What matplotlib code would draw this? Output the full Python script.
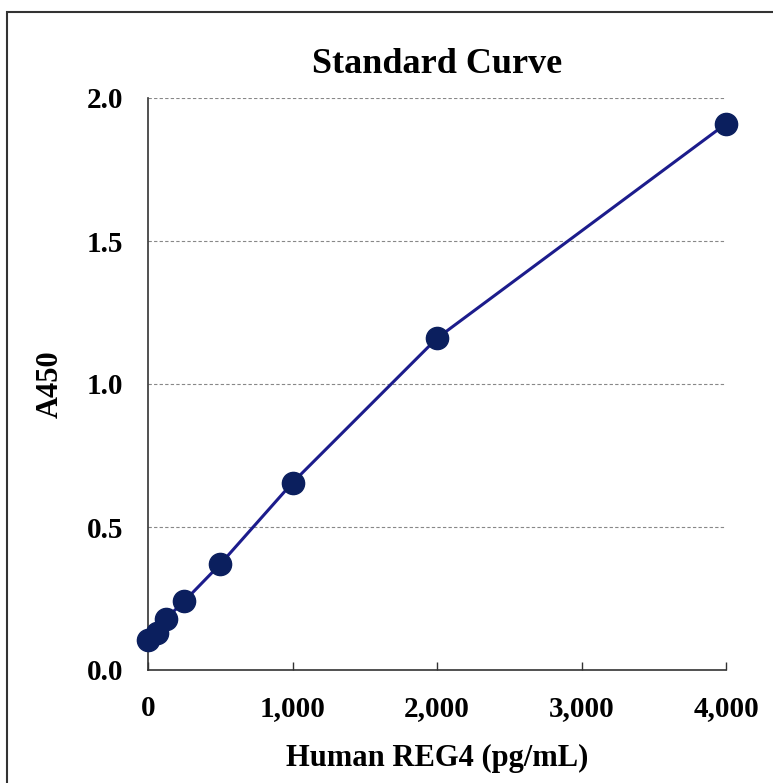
import numpy as np
import matplotlib.pyplot as plt
from matplotlib.patches import Rectangle

plt.rcParams['font.family'] = ['Liberation Serif', 'DejaVu Serif']
plt.rcParams['font.weight'] = 'bold'

# standard concentrations (pg/mL) and absorbance
conc = [0, 62.5, 125, 250, 500, 1000, 2000, 4000]
a450 = [0.105, 0.13, 0.18, 0.24, 0.37, 0.655, 1.16, 1.91]
x_ticks = [0, 1000, 2000, 3000, 4000]
x_labels = ['0', '1,000', '2,000', '3,000', '4,000']
y_ticks = [0.0, 0.5, 1.0, 1.5, 2.0]

W, H = 773, 783
fig = plt.figure(figsize=(W / 100, H / 100), dpi=100)
ax = fig.add_axes([148 / W, 1 - 670 / H, (726 - 148) / W, (670 - 98) / H])

# outer frame (only left/top visible in the crop)
fig.patches.append(Rectangle((7 / W, -0.1), 1.2, 1 - 12 / H + 0.1,
                             transform=fig.transFigure, fill=False,
                             edgecolor='#333333', linewidth=1.5))

ax.plot(conc, a450, color='#1c1c8c', linewidth=2.2, marker='o',
        markersize=16, markerfacecolor='#0b1f5e', markeredgecolor='#0b1f5e',
        clip_on=False, zorder=3)

ax.set_xlim(0, 4000)
ax.set_ylim(0, 2.0)
ax.set_xticks(x_ticks)
ax.set_xticklabels(x_labels)
ax.set_yticks(y_ticks)
ax.set_yticklabels(['%.1f' % v for v in y_ticks])
ax.tick_params(axis='x', direction='in', length=6, width=1, pad=18,
               labelsize=21, color='#333333')
ax.tick_params(axis='y', length=0, pad=18, labelsize=21)

for v in y_ticks[1:]:
    ax.axhline(v, color='#888888', linestyle=(0, (3, 2)), linewidth=0.8, zorder=1)

for s in ['top', 'right']:
    ax.spines[s].set_visible(False)
for s in ['left', 'bottom']:
    ax.spines[s].set_color('#333333')
    ax.spines[s].set_linewidth(1.2)

ax.set_title('Standard Curve', fontsize=26, fontweight='bold', pad=18)
ax.set_xlabel('Human REG4 (pg/mL)', fontsize=22, fontweight='bold', labelpad=16)
ax.set_ylabel('A450', fontsize=22, fontweight='bold', labelpad=16)

fig.savefig('out.png', dpi=100)
